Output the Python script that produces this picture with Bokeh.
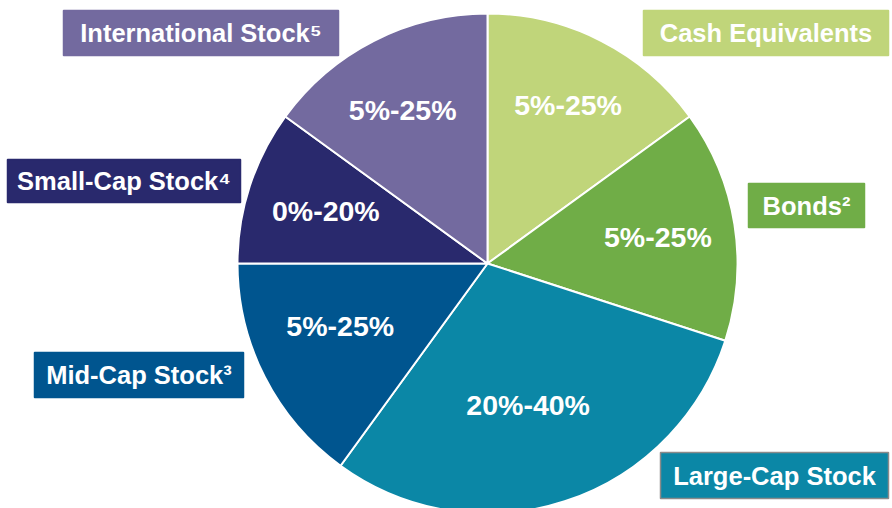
import math
from bokeh.plotting import figure
from bokeh.models import Range1d, ColumnDataSource
from bokeh.core.properties import value
from bokeh.embed import file_html
from bokeh.resources import INLINE

# ---- data ----
categories = ["Cash Equivalents", "Bonds²", "Large-Cap Stock", "Mid-Cap Stock³", "Small-Cap Stock⁴", "International Stock⁵"]
ranges = ["5%-25%", "5%-25%", "20%-40%", "5%-25%", "0%-20%", "5%-25%"]
shares = [15, 15, 30, 15, 10, 15]
colors = ["#c0d57a", "#70ad47", "#0b87a6", "#00558f", "#29296d", "#736a9f"]

# label placement per slice: fraction of radius, angle nudge (degrees)
label_r = [0.71, 0.69, 0.59, 0.64, 0.68, 0.70]
label_da = [0, 0, -2, -4, 0, 2]

W, H = 892, 508
cx, cy, R = 487, H - 263, 250

p = figure(width=W, height=H, output_backend="svg", toolbar_location=None,
           x_range=Range1d(0, W), y_range=Range1d(0, H), min_border=0)
p.axis.visible = False
p.grid.visible = False
p.outline_line_color = None
p.background_fill_color = "white"

total = sum(shares)
starts, ends, lx, ly = [], [], [], []
cum = 0
for s, fr, da in zip(shares, label_r, label_da):
    a0 = math.pi / 2 - 2 * math.pi * cum / total
    cum += s
    a1 = math.pi / 2 - 2 * math.pi * cum / total
    starts.append(a0)
    ends.append(a1)
    mid = (a0 + a1) / 2 + math.radians(da)
    rr = fr * R
    lx.append(cx + rr * math.cos(mid))
    ly.append(cy + rr * math.sin(mid))

src = ColumnDataSource(dict(start=starts, end=ends, color=colors, lx=lx, ly=ly, txt=ranges))
p.wedge(x=cx, y=cy, radius=R, start_angle="start", end_angle="end", direction="clock",
        fill_color="color", line_color="white", line_width=2, source=src)
p.text(x="lx", y="ly", text="txt", source=src, text_color="white",
       text_font=value("Liberation Sans"), text_font_style="bold", text_font_size="28.5px",
       text_align="center", text_baseline="middle")

# ---- label boxes (screen coords: left, top, right, bottom) ----
boxes = [(643, 10, 888, 55), (748, 183, 864, 227), (660, 452, 888, 498),
         (34, 352, 243, 397), (7, 159, 240, 202), (63, 10, 338, 55)]
bx = [(b[0] + b[2]) / 2 for b in boxes]
by = [H - (b[1] + b[3]) / 2 for b in boxes]
bw = [b[2] - b[0] for b in boxes]
bh = [b[3] - b[1] for b in boxes]
border = [None, None, "#8a8a8a", None, None, None]
bsrc = ColumnDataSource(dict(x=bx, y=by, w=bw, h=bh, color=colors, txt=categories,
                             lc=[b if b else c for b, c in zip(border, colors)]))
p.rect(x="x", y="y", width="w", height="h", fill_color="color", line_color="lc",
       line_width=1.5, source=bsrc)
p.text(x="x", y="y", text="txt", source=bsrc, text_color="white",
       text_font=value("Liberation Sans"), text_font_style="bold", text_font_size="25.5px",
       text_align="center", text_baseline="middle")

open("out.html", "w").write(file_html(p, INLINE))
